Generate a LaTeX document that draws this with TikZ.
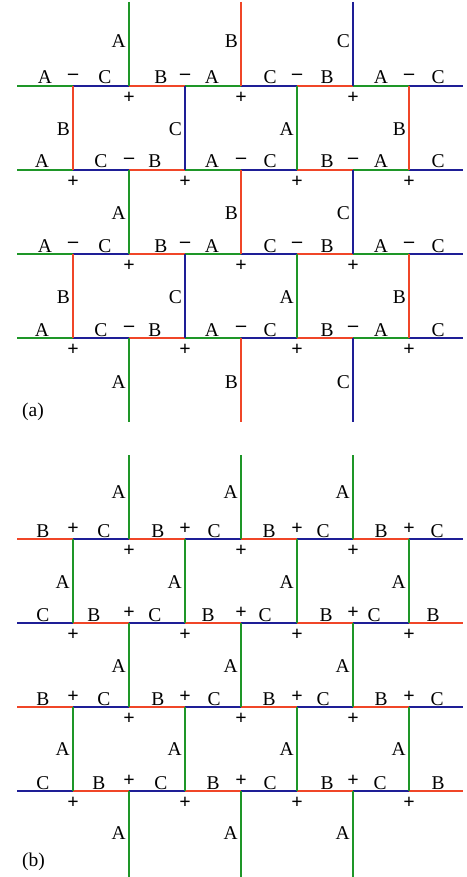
\documentclass[tikz,border=0pt]{standalone}
\usepackage{fontspec}
\setmainfont{Liberation Serif}
\definecolor{cA}{RGB}{30,150,40}
\definecolor{cB}{RGB}{240,70,40}
\definecolor{cC}{RGB}{30,30,150}
\begin{document}
\begin{tikzpicture}[x=1pt,y=-1pt,
  seg/.style={line width=1.9pt},
  lbl/.style={font=\fontsize{19.5}{22}\selectfont,inner sep=0pt,anchor=base},
  vlbl/.style={lbl,anchor=base east},
  sgn/.style={font=\fontsize{20}{22}\selectfont\bfseries,inner sep=0pt,anchor=center}]
\useasboundingbox (0,0) rectangle (466,877);

% ================= (a) =================
\foreach \Y in {86,170,254,338}{
  \foreach \col [count=\i from 0] in {A,C,B,A,C,B,A,C}{
    \draw[seg,draw=c\col] ({17+56*\i},\Y) -- ({min(73+56*\i,463)},\Y);
  }
}
\foreach \X/\col in {129/A,241/B,353/C}{
  \draw[seg,draw=c\col] (\X,2) -- (\X,86);
  \draw[seg,draw=c\col] (\X,170) -- (\X,254);
  \draw[seg,draw=c\col] (\X,338) -- (\X,422);
  \node[vlbl] at (\X-3,48) {\col};
  \node[vlbl] at (\X-3,219) {\col};
  \node[vlbl] at (\X-3,388) {\col};
}
\foreach \X/\col in {73/B,185/C,297/A,409/B}{
  \draw[seg,draw=c\col] (\X,86) -- (\X,170);
  \draw[seg,draw=c\col] (\X,254) -- (\X,338);
  \node[vlbl] at (\X-3,136) {\col};
  \node[vlbl] at (\X-3,303) {\col};
}
\foreach \Y in {86,254}{
  \foreach \x/\t in {45/A,105/C,161/B,212/A,270/C,327/B,381/A,438/C}
    \node[lbl] at (\x,\Y-2) {\t};
  \foreach \x in {73,185,297,409}
    \node[sgn] at (\x,\Y-9) {–};
  \foreach \x in {129,241,353}
    \node[sgn] at (\x,\Y+12) {+};
}
\foreach \Y in {170,338}{
  \foreach \x/\t in {42/A,101/C,155/B,212/A,270/C,327/B,381/A,438/C}
    \node[lbl] at (\x,\Y-2) {\t};
  \foreach \x in {129,241,353}
    \node[sgn] at (\x,\Y-9) {–};
  \foreach \x in {73,185,297,409}
    \node[sgn] at (\x,\Y+12) {+};
}
\node[lbl,anchor=base west] (la) at (22,416) {(a)};

% ================= (b) =================
\foreach \Y in {539,707}{
  \foreach \col [count=\i from 0] in {B,C,B,C,B,C,B,C}{
    \draw[seg,draw=c\col] ({17+56*\i},\Y) -- ({min(73+56*\i,463)},\Y);
  }
}
\foreach \Y in {623,791}{
  \foreach \col [count=\i from 0] in {C,B,C,B,C,B,C,B}{
    \draw[seg,draw=c\col] ({17+56*\i},\Y) -- ({min(73+56*\i,463)},\Y);
  }
}
\foreach \X in {129,241,353}{
  \draw[seg,draw=cA] (\X,455) -- (\X,539);
  \draw[seg,draw=cA] (\X,623) -- (\X,707);
  \draw[seg,draw=cA] (\X,791) -- (\X,877);
  \node[vlbl] at (\X-3,498) {A};
  \node[vlbl] at (\X-3,672) {A};
  \node[vlbl] at (\X-3,839) {A};
}
\foreach \X in {73,185,297,409}{
  \draw[seg,draw=cA] (\X,539) -- (\X,623);
  \draw[seg,draw=cA] (\X,707) -- (\X,791);
  \node[vlbl] at (\X-3,588) {A};
  \node[vlbl] at (\X-3,755) {A};
}
\foreach \Y in {539,707}{
  \foreach \x/\t in {43/B,104/C,158/B,214/C,269/B,323/C,381/B,437/C}
    \node[lbl] at (\x,\Y-2) {\t};
  \foreach \x in {73,185,297,409}
    \node[sgn] at (\x,\Y-10) {+};
  \foreach \x in {129,241,353}
    \node[sgn] at (\x,\Y+12) {+};
}
\foreach \x/\t in {43/C,94/B,155/C,208/B,265/C,326/B,374/C,433/B}
  \node[lbl] at (\x,621) {\t};
\foreach \x/\t in {43/C,99/B,161/C,213/B,270/C,327/B,380/C,438/B}
  \node[lbl] at (\x,789) {\t};
\foreach \Y in {623,791}{
  \foreach \x in {129,241,353}
    \node[sgn] at (\x,\Y-10) {+};
  \foreach \x in {73,185,297,409}
    \node[sgn] at (\x,\Y+12) {+};
}
\node[lbl,anchor=base west] (lb) at (22,866) {(b)};
\end{tikzpicture}
\end{document}
